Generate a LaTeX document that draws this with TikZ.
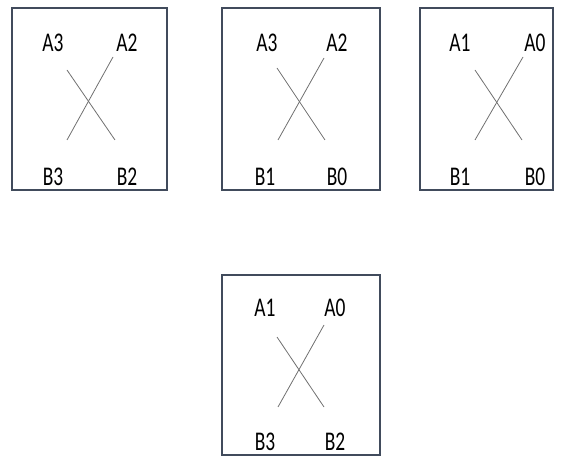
\documentclass[tikz,border=0pt]{standalone}
\usepackage{fontspec}
\setmainfont{Carlito}[FakeStretch=0.72]

\begin{document}
\begin{tikzpicture}[x=1pt, y=-1pt, frame/.style={draw=frameblue, line width=1.6pt}, wire/.style={draw=wiregray, line width=0.8pt}, pin/.style={font=\fontsize{27}{29}\selectfont, inner sep=0pt}]
\definecolor{frameblue}{HTML}{414B5C}
\definecolor{wiregray}{HTML}{707070}
\useasboundingbox (0,0) rectangle (566,468);

% box 1
\draw[frame] (12,8) rectangle (167,190);
\node[pin] (a3l) at (53,43) {A3}; \node[pin] (a2l) at (127,43) {A2};
\node[pin] (b3l) at (53,177) {B3}; \node[pin] (b2l) at (127,177) {B2};
\coordinate (p1) at (67,70); \coordinate (q1) at (115,140);
\coordinate (r1) at (113,57); \coordinate (s1) at (67,140);
\draw[wire] (p1) -- (q1); \draw[wire] (r1) -- (s1);

% box 2
\draw[frame] (222,8) rectangle (380,190);
\node[pin] (a3m) at (267,43) {A3}; \node[pin] (a2m) at (337,43) {A2};
\node[pin] (b1m) at (265,177) {B1}; \node[pin] (b0m) at (337,177) {B0};
\coordinate (p2) at (277,68); \coordinate (q2) at (325,140);
\coordinate (r2) at (324,58); \coordinate (s2) at (278,140);
\draw[wire] (p2) -- (q2); \draw[wire] (r2) -- (s2);

% box 3
\draw[frame] (420,8) rectangle (553,190);
\node[pin] (a1r) at (460,43) {A1}; \node[pin] (a0r) at (535,43) {A0};
\node[pin] (b1r) at (460,177) {B1}; \node[pin] (b0r) at (535,177) {B0};
\coordinate (p3) at (475,70); \coordinate (q3) at (522,140);
\coordinate (r3) at (523,57); \coordinate (s3) at (475,140);
\draw[wire] (p3) -- (q3); \draw[wire] (r3) -- (s3);

% box 4
\draw[frame] (222,275) rectangle (380,455);
\node[pin] (a1b) at (265,308) {A1}; \node[pin] (a0b) at (335,308) {A0};
\node[pin] (b3b) at (265,442) {B3}; \node[pin] (b2b) at (335,442) {B2};
\coordinate (p4) at (277,337); \coordinate (q4) at (324,407);
\coordinate (r4) at (324,325); \coordinate (s4) at (278,407);
\draw[wire] (p4) -- (q4); \draw[wire] (r4) -- (s4);
\end{tikzpicture}
\end{document}
